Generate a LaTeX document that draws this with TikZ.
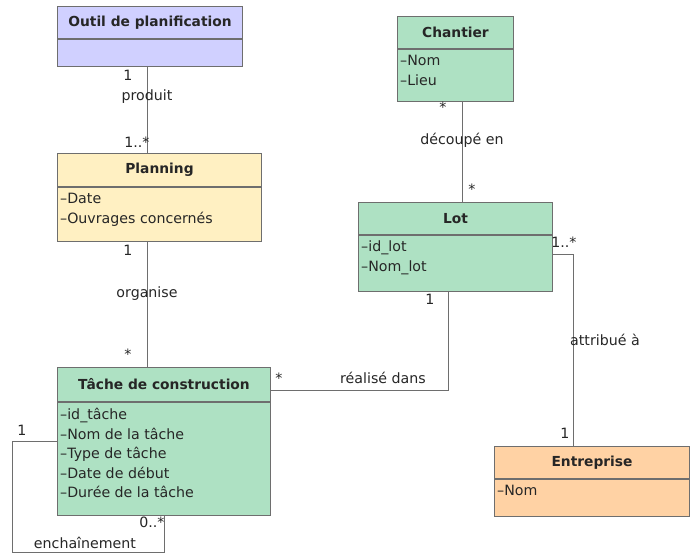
\documentclass[tikz,border=0pt]{standalone}
\usepackage{fontspec}
\setmainfont{DejaVu Sans}
\usetikzlibrary{positioning}

\definecolor{lavande}{RGB}{208,208,255}
\definecolor{jaune}{RGB}{255,240,194}
\definecolor{vert}{RGB}{174,225,195}
\definecolor{orange}{RGB}{255,210,164}
\definecolor{trait}{RGB}{110,110,110}

\begin{document}
\begin{tikzpicture}[x=1pt, y=-1pt,
	every node/.style={font=\fontsize{14.2}{19.5}\selectfont, text=black!85},
	titre/.style={draw=trait, line width=1pt, anchor=north west, font=\fontsize{13.8}{15}\selectfont\bfseries, inner sep=0pt},
	corps/.style={draw=trait, line width=1pt, anchor=north, inner sep=0pt},
	attr/.style={anchor=north west, align=left, inner sep=0pt},
	assoc/.style={draw=trait, line width=1pt}]
	\useasboundingbox (0,0) rectangle (691,553);

	% classes
	\node[titre, fill=lavande, minimum width=185pt, minimum height=32pt] (outil) at (57,6) {Outil de planification};
	\node[corps, fill=lavande, minimum width=185pt, minimum height=27pt] (outilb) at (outil.south) {};

	\node[titre, fill=jaune, minimum width=204pt, minimum height=33pt] (plan) at (57,153) {Planning};
	\node[corps, fill=jaune, minimum width=204pt, minimum height=54pt] (planb) at (plan.south) {};
	\node[attr] (plana) at ([xshift=3pt, yshift=-6pt]planb.north west) {–Date\\–Ouvrages concernés};

	\node[titre, fill=vert, minimum width=116pt, minimum height=32pt] (chantier) at (397,16) {Chantier};
	\node[corps, fill=vert, minimum width=116pt, minimum height=52pt] (chantierb) at (chantier.south) {};
	\node[attr] (chantiera) at ([xshift=3pt, yshift=-6pt]chantierb.north west) {–Nom\\–Lieu};

	\node[titre, fill=vert, minimum width=194pt, minimum height=32pt] (lot) at (358,202) {Lot};
	\node[corps, fill=vert, minimum width=194pt, minimum height=56pt] (lotb) at (lot.south) {};
	\node[attr] (lota) at ([xshift=3pt, yshift=-6pt]lotb.north west) {–id\_lot\\–Nom\_lot};

	\node[titre, fill=vert, minimum width=213pt, minimum height=34pt] (tache) at (57,367) {Tâche de construction};
	\node[corps, fill=vert, minimum width=213pt, minimum height=113pt] (tacheb) at (tache.south) {};
	\node[attr] (tachea) at ([xshift=3pt, yshift=-6pt]tacheb.north west) {–id\_tâche\\–Nom de la tâche\\–Type de tâche\\–Date de début\\–Durée de la tâche};

	\node[titre, fill=orange, minimum width=195pt, minimum height=32pt] (ent) at (494,446) {Entreprise};
	\node[corps, fill=orange, minimum width=195pt, minimum height=37pt] (entb) at (ent.south) {};
	\node[attr] (enta) at ([xshift=3pt, yshift=-6pt]entb.north west) {–Nom};

	% associations
	\draw[assoc] ([xshift=-2.5pt]outilb.south) -- ([xshift=-2.5pt]outilb.south |- plan.north);
	\draw[assoc] ([xshift=-12pt]planb.south) -- ([xshift=-12pt]planb.south |- tache.north);
	\draw[assoc] ([xshift=7pt]chantierb.south) -- ([xshift=7pt]chantierb.south |- lot.north);
	\draw[assoc] ([xshift=-7pt]lotb.south) |- ([yshift=-6pt]tache.east);
	\draw[assoc] ([yshift=9pt]lotb.east) -| ([xshift=-19pt]ent.north);
	\coordinate (boucle) at (12,552);
	\draw[assoc] ([yshift=17.5pt]tacheb.west) -| (boucle) -| (tacheb.south);

	% libelles
	\node at (147,97) {produit};
	\node at (147,294) {organise};
	\node at (462,140) {découpé en};
	\node at (383,378) {réalisé dans};
	\node at (605,340) {attribué à};
	\node at (85,543) {enchaînement};

	% multiplicites
	\node at (128,75) {1};
	\node at (137,142) {1..*};
	\node at (128,250) {1};
	\node at (128,354) {*};
	\node at (443,107) {*};
	\node at (472,189) {*};
	\node at (564,242) {1..*};
	\node at (430,299) {1};
	\node at (279,378) {*};
	\node at (565,433) {1};
	\node at (22,430) {1};
	\node at (152,522) {0..*};
\end{tikzpicture}
\end{document}
